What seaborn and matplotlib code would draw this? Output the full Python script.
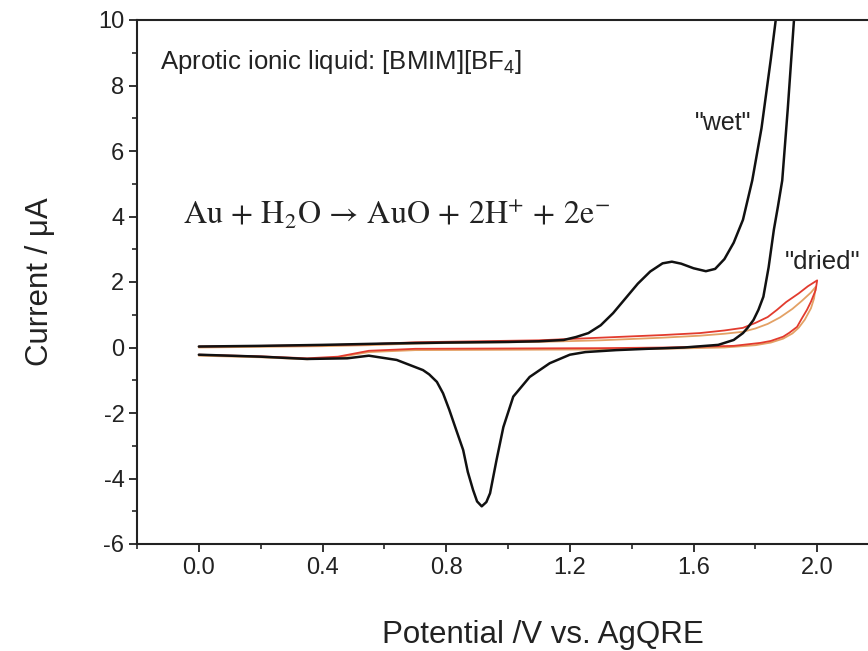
import matplotlib
matplotlib.use("Agg")
import matplotlib.pyplot as plt
import seaborn as sns
import pandas as pd
from matplotlib.ticker import MultipleLocator

# ---- data ----
wet_fwd_V = [0.00, 0.20, 0.40, 0.60, 0.80, 1.00, 1.10, 1.18, 1.22, 1.26, 1.30, 1.34, 1.38, 1.42,
             1.46, 1.50, 1.53, 1.56, 1.60, 1.64, 1.67, 1.70, 1.73, 1.76, 1.79, 1.82, 1.85, 1.87, 1.89]
wet_fwd_I = [0.03, 0.05, 0.08, 0.12, 0.15, 0.17, 0.19, 0.23, 0.32, 0.44, 0.68, 1.05, 1.50, 1.95,
             2.32, 2.57, 2.62, 2.56, 2.42, 2.33, 2.40, 2.70, 3.20, 3.90, 5.10, 6.70, 8.80, 10.3, 11.8]
wet_rev_V = [1.95, 1.925, 1.905, 1.887, 1.873, 1.86, 1.843, 1.826, 1.81, 1.794, 1.775, 1.76, 1.73,
             1.68, 1.57, 1.45, 1.35, 1.25, 1.20, 1.135, 1.07, 1.017, 0.985, 0.963, 0.942, 0.93,
             0.915, 0.90, 0.887, 0.87, 0.855, 0.83, 0.81, 0.79, 0.77, 0.745, 0.725, 0.64, 0.55,
             0.48, 0.35, 0.20, 0.00]
wet_rev_I = [11.5, 10.0, 7.3, 5.1, 4.3, 3.6, 2.45, 1.55, 1.15, 0.84, 0.60, 0.44, 0.23,
             0.08, 0.00, -0.04, -0.08, -0.14, -0.22, -0.48, -0.90, -1.50, -2.43, -3.43, -4.45, -4.72,
             -4.85, -4.70, -4.35, -3.80, -3.13, -2.45, -1.90, -1.40, -1.05, -0.82, -0.69, -0.38, -0.25,
             -0.33, -0.35, -0.28, -0.22]

dry1_fwd_V = [0.00, 0.20, 0.40, 0.55, 0.70, 0.90, 1.10, 1.30, 1.50, 1.62, 1.70, 1.76, 1.80, 1.84,
              1.87, 1.90, 1.94, 1.97, 2.00]
dry1_fwd_I = [0.03, 0.05, 0.07, 0.10, 0.16, 0.19, 0.22, 0.30, 0.38, 0.44, 0.52, 0.60, 0.75, 0.93,
              1.15, 1.39, 1.65, 1.87, 2.05]
dry1_rev_V = [1.995, 1.98, 1.967, 1.95, 1.935, 1.91, 1.89, 1.85, 1.816, 1.73, 1.51, 1.30, 1.00,
              0.70, 0.55, 0.45, 0.35, 0.20, 0.00]
dry1_rev_I = [1.75, 1.40, 1.15, 0.88, 0.63, 0.45, 0.33, 0.20, 0.14, 0.05, 0.00, -0.02, -0.03,
              -0.04, -0.10, -0.28, -0.33, -0.27, -0.22]

dry2_fwd_V = [0.00, 0.20, 0.40, 0.55, 0.70, 0.90, 1.10, 1.30, 1.50, 1.62, 1.70, 1.76, 1.80, 1.84,
              1.88, 1.92, 1.95, 1.98, 1.995]
dry2_fwd_I = [0.00, 0.02, 0.04, 0.07, 0.12, 0.15, 0.17, 0.22, 0.30, 0.36, 0.42, 0.48, 0.58, 0.72,
              0.92, 1.18, 1.42, 1.68, 1.85]
dry2_rev_V = [1.99, 1.98, 1.96, 1.94, 1.92, 1.89, 1.85, 1.80, 1.70, 1.50, 1.30, 1.00, 0.70, 0.55,
              0.45, 0.35, 0.20, 0.00]
dry2_rev_I = [1.50, 1.20, 0.85, 0.60, 0.43, 0.27, 0.15, 0.07, 0.00, -0.04, -0.06, -0.07, -0.08,
              -0.14, -0.30, -0.36, -0.30, -0.25]

x_ticks = [0.0, 0.4, 0.8, 1.2, 1.6, 2.0]
y_ticks = [-6, -4, -2, 0, 2, 4, 6, 8, 10]


def loop(fv, fi, rv, ri):
    return pd.DataFrame({"V": fv + rv, "I": fi + ri})


wet = loop(wet_fwd_V, wet_fwd_I, wet_rev_V, wet_rev_I)
dry1 = loop(dry1_fwd_V, dry1_fwd_I, dry1_rev_V, dry1_rev_I)
dry2 = loop(dry2_fwd_V, dry2_fwd_I, dry2_rev_V, dry2_rev_I)

sns.set_theme(style="ticks")
plt.rcParams["font.family"] = ["Liberation Sans", "DejaVu Sans"]
plt.rcParams["mathtext.fontset"] = "custom"
plt.rcParams["mathtext.rm"] = "Liberation Sans"
plt.rcParams["mathtext.it"] = "Liberation Sans:italic"
plt.rcParams["axes.unicode_minus"] = False

fig = plt.figure(figsize=(8.68, 6.51), dpi=100)
ax = fig.add_axes([137 / 868, 107 / 651, 742 / 868, 524 / 651])

sns.lineplot(data=dry2, x="V", y="I", sort=False, estimator=None, color="#e3a165", lw=1.3, ax=ax)
sns.lineplot(data=dry1, x="V", y="I", sort=False, estimator=None, color="#e23b2e", lw=1.3, ax=ax)
sns.lineplot(data=wet, x="V", y="I", sort=False, estimator=None, color="#111111", lw=1.8, ax=ax)

ax.set_xlim(-0.2, 2.2)
ax.set_ylim(-6, 10)
ax.set_xticks(x_ticks)
ax.set_xticklabels([f"{v:.1f}" for v in x_ticks])
ax.set_yticks(y_ticks)
ax.xaxis.set_minor_locator(MultipleLocator(0.2))
ax.yaxis.set_minor_locator(MultipleLocator(1))
ax.tick_params(which="major", direction="out", length=6, width=1.3, labelsize=17,
               colors="#222222", pad=3)
ax.tick_params(which="minor", direction="out", length=3.6, width=1.2)
ax.tick_params(top=False, right=False, which="both")
for s in ax.spines.values():
    s.set_linewidth(1.5)
    s.set_color("#222222")

ax.set_xlabel("Potential /V vs. AgQRE", fontsize=22.5, color="#222222")
ax.set_ylabel("Current / \u03bcA", fontsize=22.5, color="#222222")
ax.xaxis.set_label_coords(0.547, -0.145)
ax.yaxis.set_label_coords(-0.11, 0.5)

ax.text(-0.126, 8.72, "Aprotic ionic liquid: [BMIM][BF$_4$]", fontsize=18.5, ha="left",
        va="center", color="#222222")
ax.text(-0.052, 4.05,
        r"$\mathrm{Au\,+\,H_2O\,\rightarrow\,AuO\,+\,2H^{+}\,+\,2e^{-}}$",
        fontsize=23, ha="left", va="center", color="#222222", math_fontfamily="stix")
ax.text(1.605, 6.85, '"wet"', fontsize=18, ha="left", va="center", color="#222222")
ax.text(1.896, 2.61, '"dried"', fontsize=18.5, ha="left", va="center", color="#222222")

fig.savefig("out.png", dpi=100)
